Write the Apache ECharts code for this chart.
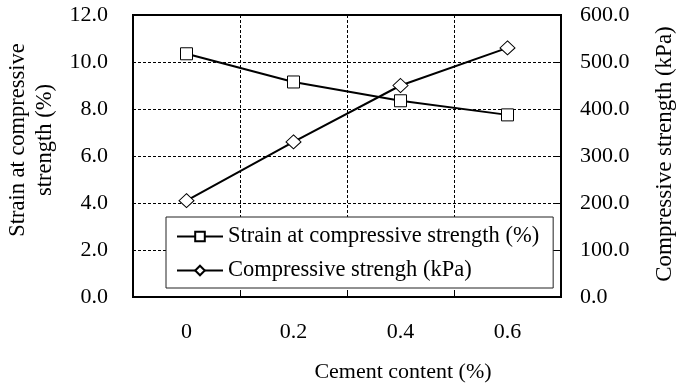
<!DOCTYPE html>
<html>
<head>
<meta charset="utf-8">
<script src="https://cdn.jsdelivr.net/npm/echarts@6/dist/echarts.min.js"></script>
<style>
  html, body { margin: 0; padding: 0; background: #fff; }
  #chart { width: 676px; height: 384px; }
</style>
</head>
<body>
<div id="chart"></div>
<script>
// data
const cementContent = ['0', '0.2', '0.4', '0.6'];
const strainValues = [10.35, 9.15, 8.35, 7.75];
const strengthValues = [205, 330, 450, 530];

const FONT = '"Liberation Serif", "Times New Roman", serif';
const dash = { color: '#000', width: 1, type: [3, 2] };

let chartObj = echarts.init(document.getElementById('chart'));

let options = {
    animation: false,
    textStyle: { fontFamily: FONT, color: '#000' },
    grid: {
        left: 133, right: 115, top: 15, bottom: 87,
        outerBoundsMode: 'none',
        show: true, borderColor: '#000', borderWidth: 2
    },
    legend: {
        orient: 'vertical',
        left: 166, top: 217,
        padding: [8, 14, 6, 10],
        itemGap: 11,
        itemWidth: 46, itemHeight: 12,
        backgroundColor: '#fff',
        borderColor: '#222', borderWidth: 1,
        textStyle: { fontFamily: FONT, fontSize: 22.5, color: '#000' }
    },
    xAxis: {
        type: 'category',
        data: cementContent,
        boundaryGap: true,
        name: 'Cement content (%)',
        nameLocation: 'middle',
        nameGap: 64,
        nameTextStyle: { fontFamily: FONT, fontSize: 22, color: '#000', padding: [0, 0, 0, 112] },
        axisLine: { lineStyle: { color: '#000', width: 2 } },
        axisTick: { show: true, inside: true, length: 5, lineStyle: { color: '#000' } },
        axisLabel: { fontFamily: FONT, fontSize: 22, color: '#000', margin: 24 },
        splitLine: { show: true, lineStyle: dash }
    },
    yAxis: [
        {
            type: 'value',
            min: 0, max: 12, interval: 2,
            name: 'Strain at compressive\nstrength (%)',
            nameLocation: 'middle',
            nameRotate: 90,
            nameGap: 72,
            nameTextStyle: { fontFamily: FONT, fontSize: 22.5, lineHeight: 27, color: '#000', padding: [0, 0, 0, 32] },
            axisLine: { show: true, lineStyle: { color: '#000', width: 2 } },
            axisTick: { show: false },
            axisLabel: { fontFamily: FONT, fontSize: 22, color: '#000', margin: 25,
                formatter: v => v.toFixed(1) },
            splitLine: { show: true, lineStyle: dash }
        },
        {
            type: 'value',
            min: 0, max: 600, interval: 100,
            name: 'Compressive strength (kPa)',
            nameLocation: 'middle',
            nameRotate: 90,
            nameGap: 92,
            nameTextStyle: { fontFamily: FONT, fontSize: 23, color: '#000', padding: [0, 0, 0, 4] },
            axisLine: { show: true, lineStyle: { color: '#000', width: 2 } },
            axisTick: { show: true, inside: true, length: 6, lineStyle: { color: '#000' } },
            axisLabel: { fontFamily: FONT, fontSize: 22, color: '#000', margin: 19,
                formatter: v => v.toFixed(1) },
            splitLine: { show: false }
        }
    ],
    series: [
        {
            name: 'Strain at compressive strength (%)',
            type: 'line',
            yAxisIndex: 0,
            data: strainValues,
            symbol: 'rect',
            symbolSize: 12,
            lineStyle: { color: '#000', width: 2 },
            itemStyle: { color: '#fff', borderColor: '#000', borderWidth: 1 },
            z: 3
        },
        {
            name: 'Compressive strengh (kPa)',
            type: 'line',
            yAxisIndex: 1,
            data: strengthValues,
            symbol: 'diamond',
            symbolSize: [15, 14],
            lineStyle: { color: '#000', width: 2 },
            itemStyle: { color: '#fff', borderColor: '#000', borderWidth: 1 },
            z: 3
        }
    ]
};

chartObj.setOption(options);
</script>
</body>
</html>
